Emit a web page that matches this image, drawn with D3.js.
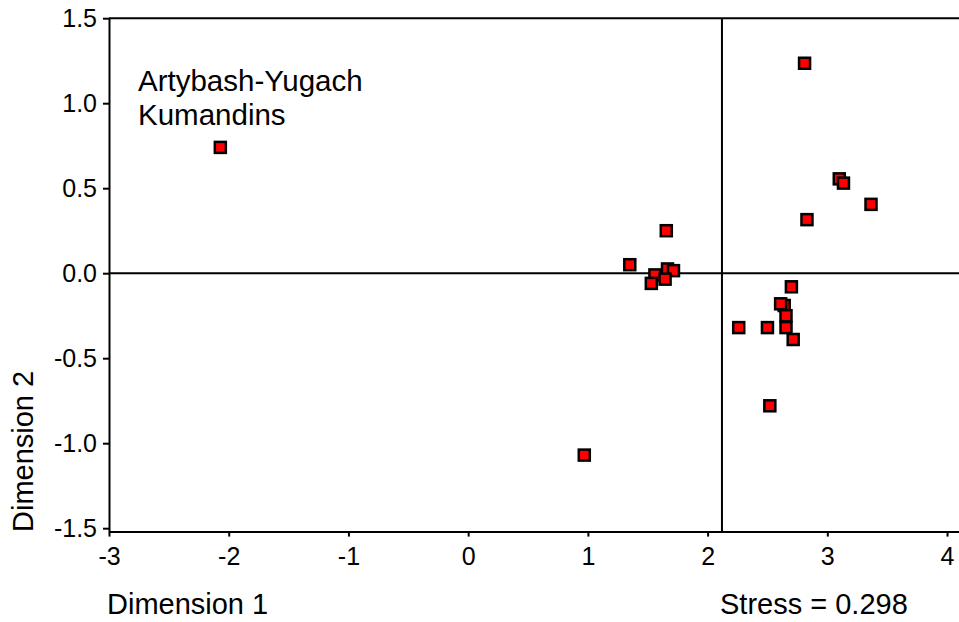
<!DOCTYPE html>
<html>
<head>
<meta charset="utf-8">
<script src="https://cdn.jsdelivr.net/npm/d3@7"></script>
<style>
  body { margin: 0; background: #fff; }
  svg { display: block; font-family: "Liberation Sans", Arial, sans-serif; }
</style>
</head>
<body>
<svg id="chart" width="959" height="622"></svg>
<script>
// MDS configuration, two dimensions
const dim1 = [-2.07, 1.35, 1.56, 1.53, 1.665, 1.715, 1.645, 1.655, 0.97,
  2.26, 2.50, 2.52, 2.70, 2.64, 2.61, 2.655, 2.655, 2.715,
  2.81, 3.10, 3.135, 3.365, 2.83];
const dim2 = [0.74, 0.05, -0.01, -0.06, 0.025, 0.015, -0.035, 0.25, -1.07,
  -0.32, -0.32, -0.78, -0.08, -0.19, -0.18, -0.25, -0.32, -0.39,
  1.235, 0.555, 0.53, 0.405, 0.315];

const xTicks = [-3, -2, -1, 0, 1, 2, 3, 4];
const yTicks = [-1.5, -1.0, -0.5, 0.0, 0.5, 1.0, 1.5];
const refX = 2.12;   // vertical reference line
const refY = 0;      // horizontal reference line
const noteLines = ["Artybash-Yugach", "Kumandins"];
const stressText = "Stress = 0.298";

const svg = d3.select("#chart");

const x = d3.scaleLinear().domain([-3, 4.1]).range([109, 959]);
const y = d3.scaleLinear().domain([-1.52, 1.5]).range([531.6, 18.2]);

const points = dim1.map((d, i) => ({ d1: d, d2: dim2[i] }));

// top frame line
svg.append("line")
  .attr("x1", x(-3)).attr("x2", x(4.1))
  .attr("y1", y(1.5)).attr("y2", y(1.5))
  .attr("stroke", "#000").attr("stroke-width", 2);

// reference lines
svg.append("line")
  .attr("x1", x(-3)).attr("x2", x(4.1))
  .attr("y1", y(refY)).attr("y2", y(refY))
  .attr("stroke", "#000").attr("stroke-width", 2);

svg.append("line")
  .attr("x1", x(refX)).attr("x2", x(refX))
  .attr("y1", y(1.5)).attr("y2", y(-1.52))
  .attr("stroke", "#000").attr("stroke-width", 2);

// axes
const xAxis = svg.append("g")
  .attr("transform", `translate(0,${y(-1.52)})`)
  .call(d3.axisBottom(x).tickValues(xTicks).tickFormat(d => String(d))
    .tickSize(5).tickSizeOuter(0).tickPadding(11));

const yAxis = svg.append("g")
  .attr("transform", `translate(${x(-3)},0)`)
  .call(d3.axisLeft(y).tickValues(yTicks).tickFormat(d => d.toFixed(1))
    .tickSize(6).tickSizeOuter(0).tickPadding(6));

[xAxis, yAxis].forEach(a => {
  a.select(".domain").attr("stroke", "#000").attr("stroke-width", 2);
  a.selectAll(".tick line").attr("stroke", "#000").attr("stroke-width", 2);
  a.selectAll(".tick text")
    .attr("fill", "#000")
    .style("font-size", "25px")
    .style("font-family", "'Liberation Sans', Arial, sans-serif");
});

// points
svg.append("g")
  .selectAll("rect")
  .data(points)
  .join("rect")
  .attr("x", d => x(d.d1) - 5.5)
  .attr("y", d => y(d.d2) - 5.5)
  .attr("width", 11)
  .attr("height", 11)
  .attr("fill", "#ff0000")
  .attr("stroke", "#000")
  .attr("stroke-width", 2.5);

// annotation
svg.append("text")
  .attr("x", 138)
  .attr("y", 91)
  .style("font-size", "29.5px")
  .selectAll("tspan")
  .data(noteLines)
  .join("tspan")
  .attr("x", 138)
  .attr("dy", (d, i) => i === 0 ? 0 : 34)
  .text(d => d);

// axis titles
svg.append("text")
  .attr("x", 107)
  .attr("y", 614)
  .style("font-size", "29px")
  .text("Dimension 1");

svg.append("text")
  .attr("transform", "translate(33,532) rotate(-90)")
  .style("font-size", "29px")
  .text("Dimension 2");

svg.append("text")
  .attr("x", 720)
  .attr("y", 614)
  .style("font-size", "29px")
  .text(stressText);
</script>
</body>
</html>
